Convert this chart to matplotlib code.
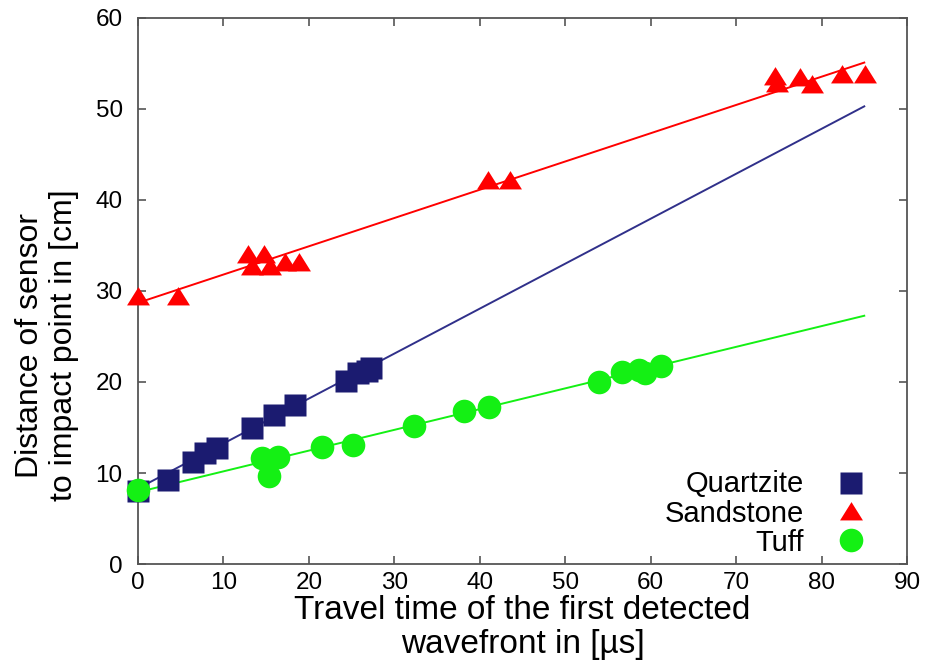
import numpy as np
import matplotlib
matplotlib.use("Agg")
import matplotlib.pyplot as plt

plt.rcParams['font.family'] = ['Liberation Sans', 'DejaVu Sans']

# Measured travel times [µs] and sensor distances [cm]
quartz_t = [0.0, 3.5, 6.5, 7.8, 9.2, 13.4, 15.9, 18.4, 24.4, 25.8, 26.8, 27.3]
quartz_d = [8.0, 9.2, 11.2, 12.2, 12.7, 14.9, 16.4, 17.5, 20.1, 21.0, 21.2, 21.5]

sand_t = [0.0, 4.7, 12.9, 14.7, 13.3, 15.4, 17.2, 18.8, 41.0, 43.5,
          74.5, 74.8, 77.5, 78.9, 82.4, 85.1]
sand_d = [29.4, 29.4, 34.1, 34.1, 32.7, 32.7, 33.2, 33.2, 42.2, 42.2,
          53.6, 52.9, 53.5, 52.8, 53.9, 53.9]

tuff_t = [0.0, 14.5, 16.4, 15.3, 21.5, 25.2, 32.3, 38.2, 41.1, 54.0,
          56.6, 58.6, 59.3, 61.2]
tuff_d = [8.1, 11.6, 11.8, 9.7, 12.9, 13.1, 15.2, 16.8, 17.3, 20.0,
          21.1, 21.3, 21.0, 21.8]

# Linear fits (slope [cm/µs], intercept [cm])
quartz_fit = (0.494, 8.3)
sand_fit = (0.3106, 28.7)
tuff_fit = (0.228, 7.9)
fit_range = (0.0, 85.0)

labels = ["Quartzite", "Sandstone", "Tuff"]
x_ticks = list(range(0, 91, 10))
y_ticks = list(range(0, 61, 10))

c_quartz = '#1b1b70'
c_quartz_line = '#30308a'
c_sand = '#ff0000'
c_tuff = '#14f014'

# equilateral-ish triangle marker
tri = [(-1.0, -0.78), (1.0, -0.78), (0.0, 0.82), (-1.0, -0.78)]

fig = plt.figure(figsize=(9.29, 6.64), dpi=100)
ax = fig.add_axes([0.1485, 0.1506, 0.8278, 0.8223])

tt = np.linspace(*fit_range, 2)
for (m, b), col in [(quartz_fit, c_quartz_line), (sand_fit, c_sand), (tuff_fit, c_tuff)]:
    ax.plot(tt, m * tt + b, color=col, lw=1.4, zorder=2)

styles = [
    (quartz_t, quartz_d, dict(marker='s', ms=16, color=c_quartz)),
    (sand_t, sand_d, dict(marker=tri, ms=16.5, color=c_sand)),
    (tuff_t, tuff_d, dict(marker='o', ms=17, color=c_tuff)),
]
for t, d, st in styles:
    ax.plot(t, d, linestyle='none', mec='none', zorder=3, clip_on=False, **st)

ax.set_xlim(0, 90)
ax.set_ylim(0, 60)
ax.set_xticks(x_ticks)
ax.set_yticks(y_ticks)
ax.tick_params(direction='in', length=6, width=1.2, color='#555555',
               labelsize=17.5, top=True, right=True)
ax.tick_params(axis='x', pad=6)
ax.tick_params(axis='y', pad=11)
for sp in ax.spines.values():
    sp.set_color('#555555')
    sp.set_linewidth(1.3)

ax.set_xlabel("Travel time of the first detected\nwavefront in [µs]",
              fontsize=24, linespacing=1.15)
ax.xaxis.set_label_coords(0.5, -0.056)
ax.set_ylabel("Distance of sensor\nto impact point in [cm]",
              fontsize=23, linespacing=1.15)
ax.yaxis.set_label_coords(-0.077, 0.40)

# Key: labels right-aligned, markers to the right
leg_text_y = [0.1324, 0.0775, 0.0244]
leg_mark_y = [0.149, 0.097, 0.044]
for lab, ty, my, (_, _, st) in zip(labels, leg_text_y, leg_mark_y, styles):
    ax.text(0.866, ty, lab, transform=ax.transAxes, ha='right', va='baseline',
            fontsize=21)
    ax.plot([0.927], [my], transform=ax.transAxes, linestyle='none',
            mec='none', zorder=4, clip_on=False, **st)

fig.savefig("out.png", dpi=100)
